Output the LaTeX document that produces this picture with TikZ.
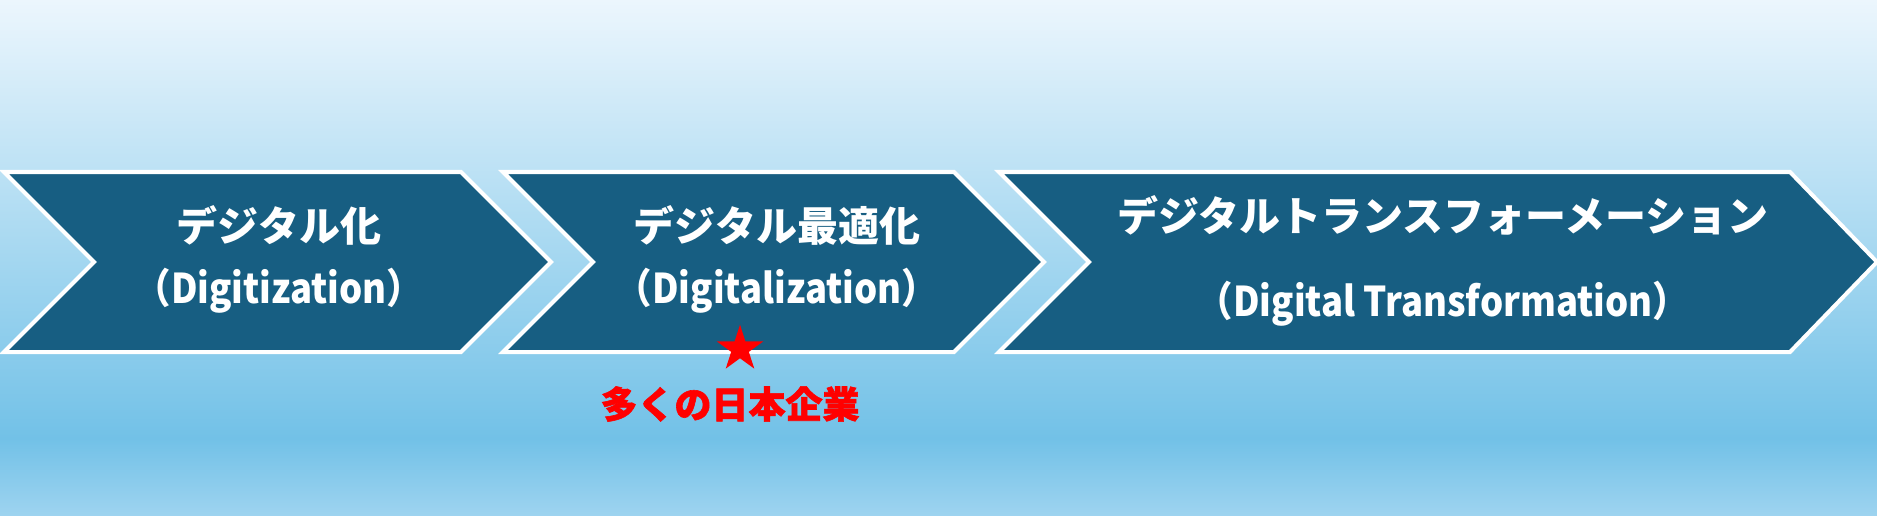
\documentclass[tikz,border=0pt]{standalone}
\usepackage{fontspec}
\usetikzlibrary{shapes.geometric}
\newfontfamily\jp{Noto Sans CJK JP}
\newfontfamily\jpnarrow{Noto Sans CJK JP}[FakeStretch=0.89]
\newfontfamily\jpheavy{Noto Sans CJK JP}[BoldFeatures={FakeBold=1.6}]
\definecolor{chev}{RGB}{23,94,130}
\definecolor{starred}{RGB}{255,0,0}
\pgfdeclareverticalshading{skybg}{100bp}{rgb(0bp)=(0.62,0.83,0.94); rgb(25bp)=(0.62,0.83,0.94); rgb(32.5bp)=(0.447,0.757,0.906); rgb(75bp)=(0.925,0.965,0.992); rgb(100bp)=(0.925,0.965,0.992)}
\begin{document}
\begin{tikzpicture}[x=1pt,y=-1pt,
  chevron/.style={fill=chev,draw=white,line width=4pt,line join=miter},
  boxtext/.style={text=white,font=\jp\bfseries\fontsize{41}{48}\selectfont,inner sep=0pt},
  boxlatin/.style={text=white,font=\jpnarrow\bfseries\fontsize{41}{48}\selectfont,inner sep=0pt},
  redtext/.style={text=starred,font=\jpheavy\bfseries\fontsize{37}{44}\selectfont,inner sep=0pt}]
\shade[shading=skybg] (0,0) rectangle (1877,516);
\useasboundingbox (0,0) rectangle (1877,516);
% chevrons
\draw[chevron] (4,172) -- (461,172) -- (551,262) -- (461,352) -- (4,352) -- (94,262) -- cycle;
\draw[chevron] (503,172) -- (954,172) -- (1044,262) -- (954,352) -- (503,352) -- (593,262) -- cycle;
\draw[chevron] (999,172) -- (1790,172) -- (1877,262) -- (1790,352) -- (999,352) -- (1089,262) -- cycle;
% texts
\node[boxtext] (c1a) at (279,225) {デジタル化};
\node[boxlatin] (c1b) at (279,291) {（Digitization）};
\node[boxtext] (c2a) at (777,225) {デジタル最適化};
\node[boxlatin] (c2b) at (777,291) {（Digitalization）};
\node[boxtext] (c3a) at (1443,215) {デジタルトランスフォーメーション};
\node[boxlatin] (c3b) at (1443,304) {（Digital Transformation）};
% star and note
\node[star,star points=5,star point ratio=2.618,minimum size=48.6pt,inner sep=0pt,fill=starred] (st) at (740,349) {};
\node[redtext] (note) at (730,404) {多くの日本企業};
\end{tikzpicture}
\end{document}
